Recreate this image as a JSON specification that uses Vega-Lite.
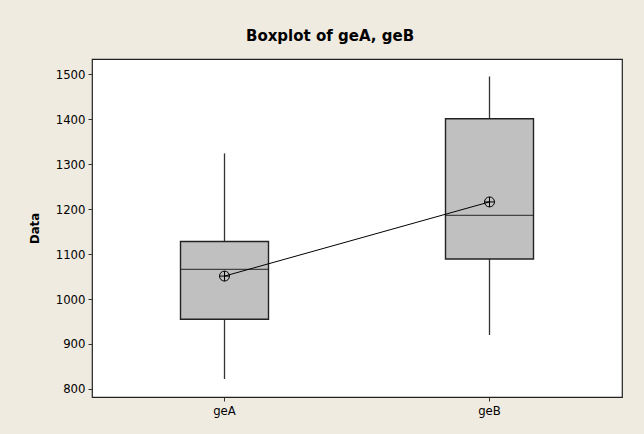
{
  "$schema": "https://vega.github.io/schema/vega-lite/v6.json",
  "autosize": "none",
  "width": 530,
  "height": 338,
  "padding": {"left": 92, "top": 59, "right": 22, "bottom": 37},
  "background": "#EFEBE1",
  "config": {
    "view": {"fill": "white", "stroke": "#222222", "strokeWidth": 1.2},
    "font": "DejaVu Sans Condensed, DejaVu Sans",
    "axis": {"labelFont": "DejaVu Sans Condensed, DejaVu Sans", "titleFont": "DejaVu Sans Condensed, DejaVu Sans"}
  },
  "title": {
    "text": "Boxplot of geA, geB",
    "font": "DejaVu Sans",
    "fontSize": 15,
    "fontWeight": "bold",
    "color": "black",
    "anchor": "middle",
    "dx": -27,
    "offset": 15
  },
  "data": {
    "values": [
      {"group": "geA", "min": 822, "q1": 955, "median": 1066, "q3": 1128, "max": 1324, "mean": 1051},
      {"group": "geB", "min": 920, "q1": 1089, "median": 1186, "q3": 1401, "max": 1495, "mean": 1216}
    ]
  },
  "encoding": {
    "x": {
      "field": "group",
      "type": "nominal",
      "scale": {"paddingInner": 0.5, "paddingOuter": 0.25},
      "axis": {
        "title": null,
        "labelAngle": 0,
        "labelFontSize": 13,
        "labelColor": "black",
        "tickColor": "#333",
        "tickSize": 4,
        "labelPadding": 3,
        "domain": false
      }
    }
  },
  "layer": [
    {
      "mark": {"type": "rule", "color": "#333333", "strokeWidth": 1.3},
      "encoding": {
        "y": {
          "field": "min",
          "type": "quantitative",
          "scale": {"domain": [782, 1534], "nice": false, "zero": false},
          "axis": {
            "title": "Data",
            "titleFontSize": 13,
            "titleFontWeight": "bold",
            "titleColor": "black",
            "titleX": -51,
            "format": "d",
            "values": [800, 900, 1000, 1100, 1200, 1300, 1400, 1500],
            "grid": false,
            "domain": false,
            "tickColor": "#333",
            "tickSize": 4,
            "labelFontSize": 13,
            "labelColor": "black",
            "labelPadding": 3
          }
        },
        "y2": {"field": "max"}
      }
    },
    {
      "mark": {"type": "bar", "size": 88, "fill": "#C0C0C0", "stroke": "#222222", "strokeWidth": 1.4},
      "encoding": {
        "y": {"field": "q1", "type": "quantitative"},
        "y2": {"field": "q3"}
      }
    },
    {
      "mark": {"type": "tick", "size": 88, "thickness": 1.2, "color": "#111111"},
      "encoding": {
        "y": {"field": "median", "type": "quantitative"}
      }
    },
    {
      "mark": {"type": "line", "color": "black", "strokeWidth": 1},
      "encoding": {
        "y": {"field": "mean", "type": "quantitative"}
      }
    },
    {
      "mark": {
        "type": "point",
        "shape": "M -1 0 A 1 1 0 1 0 1 0 A 1 1 0 1 0 -1 0 M -1 0 L 1 0 M 0 -1 L 0 1",
        "size": 100,
        "filled": false,
        "color": "black",
        "strokeWidth": 1,
        "opacity": 1
      },
      "encoding": {
        "y": {"field": "mean", "type": "quantitative"}
      }
    }
  ]
}
